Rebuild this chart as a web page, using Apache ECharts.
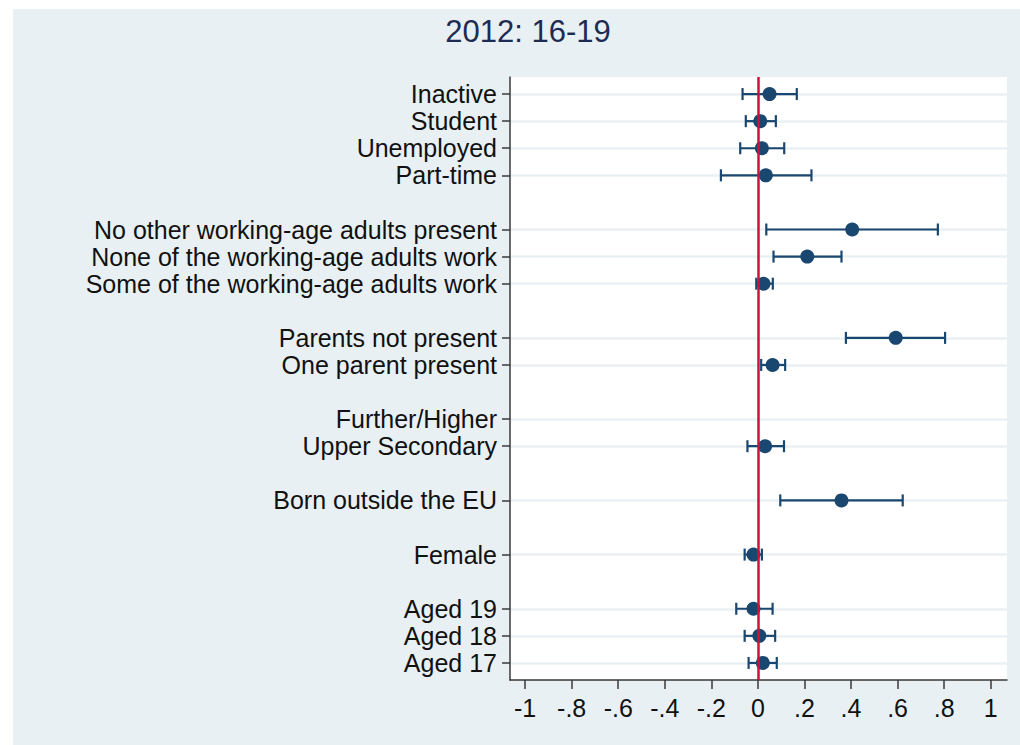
<!DOCTYPE html>
<html>
<head>
<meta charset="utf-8">
<script src="https://cdn.jsdelivr.net/npm/echarts@6/dist/echarts.min.js"></script>
<style>
  html, body { margin: 0; padding: 0; background: #ffffff; }
  #chart { width: 1020px; height: 745px; }
</style>
</head>
<body>
<div id="chart"></div>
<script>
// Coefficient groups, top to bottom; a blank row separates groups
const groups = [
  ['Inactive', 'Student', 'Unemployed', 'Part-time'],
  ['No other working-age adults present', 'None of the working-age adults work', 'Some of the working-age adults work'],
  ['Parents not present', 'One parent present'],
  ['Further/Higher', 'Upper Secondary'],
  ['Born outside the EU'],
  ['Female'],
  ['Aged 19', 'Aged 18', 'Aged 17']
];

// Point estimates and 95% interval bounds (null = no estimate)
const estimate = {
  'Inactive': 0.050, 'Student': 0.010, 'Unemployed': 0.017, 'Part-time': 0.034,
  'No other working-age adults present': 0.405, 'None of the working-age adults work': 0.212,
  'Some of the working-age adults work': 0.024,
  'Parents not present': 0.592, 'One parent present': 0.063,
  'Further/Higher': null, 'Upper Secondary': 0.031,
  'Born outside the EU': 0.359, 'Female': -0.019,
  'Aged 19': -0.019, 'Aged 18': 0.006, 'Aged 17': 0.021
};
const lower = {
  'Inactive': -0.066, 'Student': -0.052, 'Unemployed': -0.076, 'Part-time': -0.159,
  'No other working-age adults present': 0.036, 'None of the working-age adults work': 0.067,
  'Some of the working-age adults work': -0.007,
  'Parents not present': 0.378, 'One parent present': 0.014,
  'Further/Higher': null, 'Upper Secondary': -0.045,
  'Born outside the EU': 0.096, 'Female': -0.057,
  'Aged 19': -0.093, 'Aged 18': -0.057, 'Aged 17': -0.040
};
const upper = {
  'Inactive': 0.167, 'Student': 0.077, 'Unemployed': 0.113, 'Part-time': 0.230,
  'No other working-age adults present': 0.773, 'None of the working-age adults work': 0.359,
  'Some of the working-age adults work': 0.064,
  'Parents not present': 0.804, 'One parent present': 0.117,
  'Further/Higher': null, 'Upper Secondary': 0.112,
  'Born outside the EU': 0.622, 'Female': 0.017,
  'Aged 19': 0.063, 'Aged 18': 0.074, 'Aged 17': 0.081
};

const xTicks = [-1, -0.8, -0.6, -0.4, -0.2, 0, 0.2, 0.4, 0.6, 0.8, 1];

// Row positions: one slot per coefficient, one empty slot between groups
const rows = [];
let slot = 0;
groups.forEach((g, gi) => {
  if (gi > 0) slot += 1;
  g.forEach(name => { rows.push({ name: name, pos: slot }); slot += 1; });
});
const rowPos = rows.map(r => r.pos);
const nameAt = {};
rows.forEach(r => { nameAt[r.pos] = r.name; });
const lastPos = slot - 1;

const pointData = rows.filter(r => estimate[r.name] !== null).map(r => [estimate[r.name], r.pos]);
const barData = rows.filter(r => lower[r.name] !== null).map(r => [lower[r.name], upper[r.name], r.pos]);

const FONT = "'Liberation Sans', Arial, Helvetica, sans-serif";
const NAVY = '#1a476f';
const fmtX = v => {
  if (Math.abs(v) < 1e-9) return '0';
  let s = String(Math.round(v * 10) / 10);
  return s.replace(/^(-?)0\./, '$1.');
};

const chart = echarts.init(document.getElementById('chart'), null, { renderer: 'svg' });
chart.setOption({
  backgroundColor: '#ffffff',
  animation: false,
  graphic: [{
    type: 'rect', z: -10, silent: true,
    shape: { x: 13, y: 9, width: 1007, height: 736 },
    style: { fill: '#e8f0f3' }
  }],
  title: {
    text: '2012: 16-19',
    left: 523, top: 11, textAlign: 'center',
    textStyle: { fontFamily: FONT, fontSize: 31, fontWeight: 'normal', color: '#1e2b52' }
  },
  grid: {
    left: 510, right: 13, top: 77, bottom: 65,
    show: true, backgroundColor: '#ffffff', borderWidth: 0
  },
  xAxis: {
    type: 'value', min: -1.065, max: 1.07,
    axisLine: { show: true, onZero: false, lineStyle: { color: '#3a3a3a', width: 1.5 } },
    axisTick: { show: true, customValues: xTicks, length: 9, lineStyle: { color: '#3a3a3a', width: 1.5 } },
    axisLabel: { customValues: xTicks, formatter: fmtX, margin: 15, color: '#111', fontFamily: FONT, fontSize: 25 },
    splitLine: { show: false }
  },
  yAxis: {
    type: 'value', inverse: true, min: -0.63, max: lastPos + 0.63,
    axisLine: { show: true, onZero: false, lineStyle: { color: '#3a3a3a', width: 1.5 } },
    axisTick: { show: true, customValues: rowPos, length: 8, lineStyle: { color: '#3a3a3a', width: 1.5 } },
    axisLabel: {
      customValues: rowPos, formatter: v => nameAt[v] || '', margin: 13,
      color: '#111', fontFamily: FONT, fontSize: 25
    },
    splitLine: { show: true, lineStyle: { color: '#eaf1f4', width: 2.5 } }
  },
  series: [
    {
      // confidence intervals with end caps
      type: 'custom', z: 2, clip: false,
      data: barData,
      encode: { x: [0, 1], y: 2 },
      renderItem: (params, api) => {
        const a = api.coord([api.value(0), api.value(2)]);
        const b = api.coord([api.value(1), api.value(2)]);
        const h = 6;
        const st = { stroke: NAVY, lineWidth: 2.2 };
        return {
          type: 'group',
          children: [
            { type: 'line', shape: { x1: a[0], y1: a[1], x2: b[0], y2: b[1] }, style: st },
            { type: 'line', shape: { x1: a[0], y1: a[1] - h, x2: a[0], y2: a[1] + h }, style: st },
            { type: 'line', shape: { x1: b[0], y1: b[1] - h, x2: b[0], y2: b[1] + h }, style: st }
          ]
        };
      }
    },
    {
      // reference line at zero
      type: 'scatter', z: 3, data: [], symbolSize: 0,
      markLine: {
        silent: true, symbol: 'none', label: { show: false },
        lineStyle: { color: '#d0103a', width: 2.5, type: 'solid' },
        data: [{ xAxis: 0 }]
      }
    },
    {
      type: 'scatter', z: 4, data: pointData,
      symbol: 'circle', symbolSize: 14,
      itemStyle: { color: NAVY, opacity: 1 }
    }
  ]
});
</script>
</body>
</html>
